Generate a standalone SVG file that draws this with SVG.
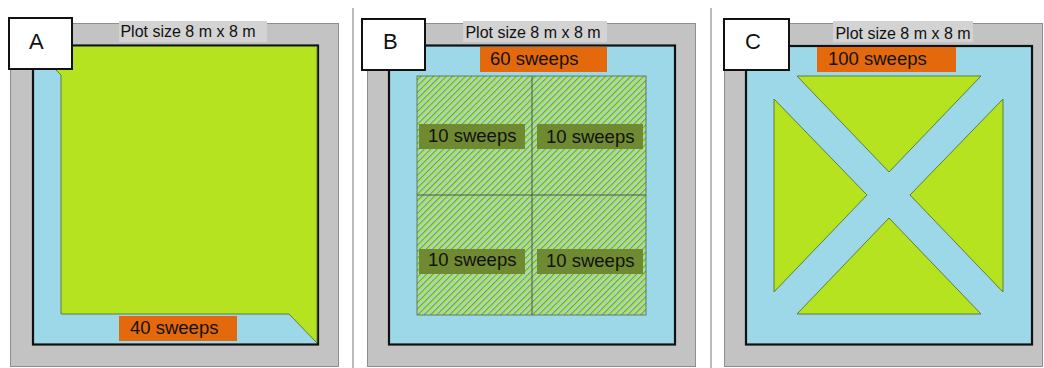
<svg xmlns="http://www.w3.org/2000/svg" width="1044" height="368" viewBox="0 0 1044 368">
<style>
text{font-family:"Liberation Sans",Arial,sans-serif;fill:#111}
.outer{fill:#c3c3c3;stroke:#8e8e8e;stroke-width:1}
.inner{fill:#9dd8e8;stroke:#111;stroke-width:2.2}
.plotlbl{fill:#d3d3d3}
.tag{fill:#fff;stroke:#111;stroke-width:2}
.tagt{font-size:22px}
.plott{font-size:16px;text-anchor:middle}
.orange{fill:#e4690c}
.sw{font-size:18.5px}
.green{fill:#b5e31f;stroke:#5d7f3a;stroke-width:1}
.olive{fill:#6f8a30}
.sep{stroke:#777;stroke-width:1}
</style>
<defs>
<pattern id="hatch" patternUnits="userSpaceOnUse" width="4.5" height="4.5" patternTransform="rotate(45)">
<rect x="0" y="0" width="4.5" height="4.5" fill="#9fd8dc"/>
<rect x="0" y="0" width="2.3" height="4.5" fill="#b5e31f"/>
<rect x="0" y="0" width="0.7" height="4.5" fill="#5f8a3a"/>
</pattern>
</defs>
<g id="separators">
<line class="sep" x1="353" y1="8" x2="353" y2="368"/>
<line class="sep" x1="711" y1="8" x2="711" y2="368"/>
</g>
<g id="panelA">
<rect class="outer" x="10.5" y="23.5" width="328" height="343"/>
<rect class="inner" x="33" y="45.5" width="285" height="299"/>
<polygon class="green" points="55,46.5 317,46.5 317,343 289,314 61,314 61,75 55,69"/>
<rect class="plotlbl" x="119" y="21" width="148" height="21"/>
<text class="plott" x="188" y="37">Plot size 8 m x 8 m</text>
<rect class="tag" x="9" y="18" width="63" height="51"/>
<text class="tagt" x="29" y="49">A</text>
<rect class="orange" x="119" y="316" width="118" height="25"/>
<text class="sw" x="130" y="334">40 sweeps</text>
</g>
<g id="panelB">
<rect class="outer" x="367.5" y="23.5" width="328" height="343"/>
<rect class="inner" x="389" y="45.5" width="286" height="299"/>
<rect x="417" y="76" width="229" height="239" fill="url(#hatch)" stroke="#4f6a4a" stroke-width="0.8"/>
<line x1="532" y1="76" x2="532" y2="315" stroke="#4a5a4a" stroke-width="1"/>
<line x1="417" y1="195" x2="646" y2="195" stroke="#4a5a4a" stroke-width="1"/>
<rect class="plotlbl" x="463" y="21" width="144" height="21"/>
<text class="plott" x="533" y="38">Plot size 8 m x 8 m</text>
<rect class="tag" x="362" y="19" width="63" height="51"/>
<text class="tagt" x="383" y="49">B</text>
<rect class="orange" x="480" y="47" width="127" height="25"/>
<text class="sw" x="490" y="65">60 sweeps</text>
<rect class="olive" x="419" y="124" width="106" height="25"/>
<text class="sw" x="428" y="142">10 sweeps</text>
<rect class="olive" x="537" y="124" width="106" height="25"/>
<text class="sw" x="546" y="143">10 sweeps</text>
<rect class="olive" x="419" y="249" width="106" height="25"/>
<text class="sw" x="428" y="266">10 sweeps</text>
<rect class="olive" x="537" y="249" width="106" height="25"/>
<text class="sw" x="546" y="267">10 sweeps</text>
</g>
<g id="panelC">
<rect class="outer" x="724.5" y="23.5" width="318" height="343"/>
<rect class="inner" x="746" y="46" width="286" height="298.5"/>
<polygon class="green" points="797,76 981,76 889,172"/>
<polygon class="green" points="774,99 774,292 867,195"/>
<polygon class="green" points="1003,99 1003,292 910,195"/>
<polygon class="green" points="797,314 981,314 889,218"/>
<rect class="plotlbl" x="833" y="21" width="140" height="21"/>
<text class="plott" x="903" y="39">Plot size 8 m x 8 m</text>
<rect class="tag" x="724" y="19" width="65" height="51"/>
<text class="tagt" x="745" y="49">C</text>
<rect class="orange" x="817" y="47" width="139" height="25"/>
<text class="sw" x="828" y="65">100 sweeps</text>
</g>
</svg>
